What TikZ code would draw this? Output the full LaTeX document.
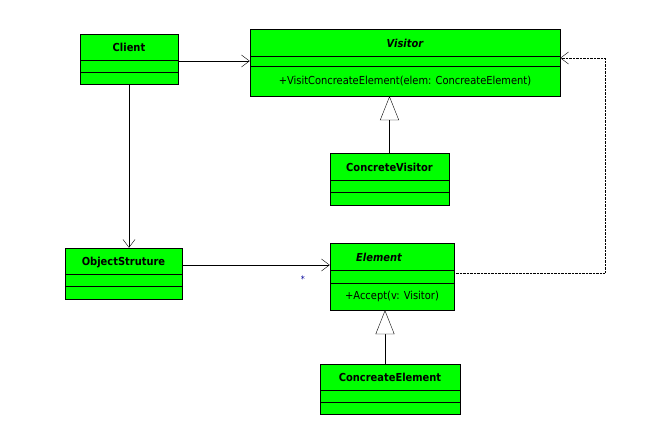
\documentclass[tikz,border=0pt]{standalone}
\usepackage{fontspec}
\setmainfont{DejaVu Sans Condensed}
\usetikzlibrary{arrows.meta}
\usetikzlibrary{positioning}
\definecolor{umlgreen}{RGB}{0,255,0}
\begin{document}
\begin{tikzpicture}[x=1pt,y=-1pt,
  box/.style={draw,fill=umlgreen,rectangle,inner sep=0pt},
  title/.style={font=\bfseries\fontsize{11}{13}\selectfont},
  method/.style={font=\fontsize{11}{13}\selectfont},
  assoc/.style={-{Straight Barb[length=8pt,width=12pt]}},
  inherit/.style={-{Triangle[open,length=24pt,width=19pt,fill=white]}}]
\useasboundingbox (0,0) rectangle (653,441);
% classes
\node[box,minimum width=98,minimum height=50] (client) at (129,59) {};
\node[title] at (129,47) {Client};
\draw (80,60) -- (178,60) (80,72) -- (178,72);
\node[box,minimum width=310,minimum height=67] (visitor) at (405,62.5) {};
\node[title,font=\bfseries\itshape\fontsize{11}{13}\selectfont] at (405,43) {Visitor};
\draw (250,56) -- (560,56) (250,66) -- (560,66);
\node[method] at (405,81) {+VisitConcreateElement(elem: ConcreateElement)};
\node[box,minimum width=119,minimum height=52] (cvisitor) at (389.5,179) {};
\node[title] at (389.5,167) {ConcreteVisitor};
\draw (330,180) -- (449,180) (330,192) -- (449,192);
\node[box,minimum width=117,minimum height=51] (objs) at (123.5,273.5) {};
\node[title] at (123.5,263) {ObjectStruture};
\draw (65,274) -- (182,274) (65,286) -- (182,286);
\node[box,minimum width=124,minimum height=67] (element) at (392,276.5) {};
\node[title,font=\bfseries\itshape\fontsize{11}{13}\selectfont] at (379,257) {Element};
\draw (330,270) -- (454,270) (330,283) -- (454,283);
\node[method] at (392,296) {+Accept(v: Visitor)};
\node[box,minimum width=140,minimum height=50] (celement) at (390,389) {};
\node[title] at (390,377) {ConcreateElement};
\draw (320,390) -- (460,390) (320,402) -- (460,402);
% connectors
\draw[assoc] ([yshift=-2]client.east) -- ([yshift=-2]client.east -| visitor.west);
\draw[assoc] (client.south) -- (client.south |- objs.north);
\draw[assoc] ([yshift=8.5]objs.east) -- ([yshift=8.5]objs.east -| element.west);
\node[text=blue!60!black,font=\small] at (303,279) {*};
\coordinate (c1) at (605,273);
\coordinate (c2) at (605,58);
\draw[densely dotted,assoc] ([yshift=3.5]element.east) -- (c1) -- (c2) -- ([yshift=4.5]visitor.east);
\draw[inherit] (cvisitor.north) -- (cvisitor.north |- visitor.south);
\draw[inherit] ([xshift=-5]celement.north) -- ([xshift=-5]celement.north |- element.south);
\end{tikzpicture}
\end{document}
